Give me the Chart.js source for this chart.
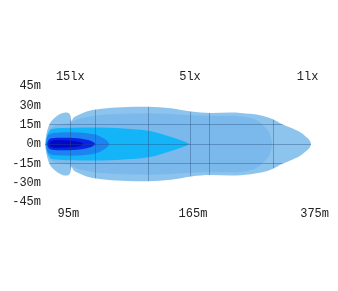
<!DOCTYPE html>
<html>
<head>
<meta charset="utf-8">
<script src="https://cdn.jsdelivr.net/npm/chart.js@4.4.1/dist/chart.umd.min.js"></script>
<style>
  html, body { margin: 0; padding: 0; background: #fff; }
  canvas { display: block; }
</style>
</head>
<body>
<canvas id="beam" width="338" height="291"></canvas>
<script>
// isolux contours: distance along beam (chart units) and half width (m)
const coreX = [6, 8, 14, 29, 37, 41]
const coreH = [0, 2.2, 2.9, 2.6, 1.5, 0]

const darkX = [4, 5.5, 9, 19, 34, 44, 50, 53]
const darkH = [0, 2.9, 4.4, 4.8, 4.4, 3.3, 1.8, 0]

const mediumX = [2.5, 4, 7, 14, 29, 44, 54, 61, 65, 67]
const mediumH = [0, 5.1, 7.7, 8.8, 9.1, 8.4, 7, 4.4, 2.2, 0]

const cyanX = [3, 4, 6, 9, 19, 39, 59, 89, 109, 124, 139, 148]
const cyanH = [0, 5.9, 9.5, 11.7, 12.4, 12.8, 12.8, 11.7, 9.9, 6.6, 2.9, 0]

const innerX = [3, 5, 9, 19, 28, 34, 49, 69, 109, 149, 169, 189, 207, 217, 224, 229, 231]
const innerH = [0, 8.8, 13.2, 15.4, 16.5, 19, 21.6, 23, 23.8, 22.3, 22, 22, 20.5, 17.6, 12.4, 6.6, 0]

const outerX = [2, 3, 4.5, 7, 11, 15, 19, 23, 26, 27.5, 28.3, 31, 35, 44, 59, 79, 106, 129, 149, 169, 189, 209, 221, 231, 241, 249, 259, 265, 269, 270]
const outerH = [0, 5.9, 11, 16.1, 19.8, 22.3, 23.8, 24.5, 23.8, 22, 17.9, 20.5, 22.3, 25.2, 27.4, 28.5, 28.9, 27.8, 25.2, 24.1, 24.5, 23.4, 22, 19.4, 15.4, 12.8, 9.1, 5.5, 2.2, 0]

// axis labels
const topLabels = ['15lx', '5lx', '1lx']
const topPos = [27.5, 148, 266.5]
const bottomLabels = ['95m', '165m', '375m']
const bottomPos = [25.5, 151, 273.5]
const gridX = [28, 53, 106, 149, 168, 232]
const gridY = [-15, 0, 15]

const regions = [
  { x: coreX, h: coreH, color: '#0008c8' },
  { x: darkX, h: darkH, color: '#0a22e6' },
  { x: mediumX, h: mediumH, color: '#1c84f0' },
  { x: cyanX, h: cyanH, color: '#14b4f8' },
  { x: innerX, h: innerH, color: '#7bb9ec' },
  { x: outerX, h: outerH, color: '#8dc4ee' },
]

function edge (xs, hs, sign) {
  return xs.map((x, i) => ({ x, y: sign * hs[i] }))
}

const datasets = regions.flatMap(r => [
  { data: edge(r.x, r.h, 1), fill: '+1', backgroundColor: r.color },
  { data: edge(r.x, r.h, -1), fill: false, backgroundColor: r.color },
])

const FONT = { family: '"Liberation Mono", "DejaVu Sans Mono", monospace', size: 12 }
const TXT = '#222'
const GRID = 'rgba(40,70,120,0.38)'

const setTicks = vals => scale => { scale.ticks = vals.map(v => ({ value: v })) }

// grid is only painted where the beam is already drawn
const clipGrid = {
  id: 'clipGrid',
  afterDatasetsDraw (chart) { chart.ctx.globalCompositeOperation = 'source-atop' },
  afterDraw (chart) { chart.ctx.globalCompositeOperation = 'source-over' },
}

new Chart(document.getElementById('beam'), {
  type: 'line',
  data: { datasets },
  options: {
    responsive: false,
    animation: false,
    layout: { padding: { top: 67.6, bottom: 64.6, left: 10.2, right: 7 } },
    elements: {
      line: { borderWidth: 0, borderColor: 'transparent', cubicInterpolationMode: 'monotone' },
      point: { radius: 0, hoverRadius: 0 },
    },
    plugins: { legend: { display: false }, tooltip: { enabled: false } },
    scales: {
      x: {
        type: 'linear', position: 'bottom', min: 0, max: 290,
        afterBuildTicks: setTicks(bottomPos),
        ticks: { callback: (v, i) => bottomLabels[i], font: FONT, color: TXT, padding: 5, autoSkip: false, maxRotation: 0 },
        grid: { display: false, drawTicks: false },
        border: { display: false },
      },
      xTop: {
        axis: 'x', type: 'linear', position: 'top', min: 0, max: 290,
        afterBuildTicks: setTicks(topPos),
        ticks: { callback: (v, i) => topLabels[i], font: FONT, color: TXT, padding: 2, autoSkip: false, maxRotation: 0 },
        grid: { display: false, drawTicks: false },
        border: { display: false },
      },
      y: {
        type: 'linear', position: 'left', min: -45, max: 45,
        ticks: { stepSize: 15, callback: v => v + 'm', font: FONT, color: TXT, padding: 2 },
        grid: { display: false, drawTicks: false },
        border: { display: false },
      },
      xGrid: {
        axis: 'x', type: 'linear', position: 'bottom', min: 0, max: 290,
        afterBuildTicks: setTicks(gridX),
        ticks: { display: false },
        grid: { color: GRID, lineWidth: 1, drawTicks: false, z: 1 },
        border: { display: false },
      },
      yGrid: {
        axis: 'y', type: 'linear', position: 'left', min: -45, max: 45,
        afterBuildTicks: setTicks(gridY),
        ticks: { display: false },
        grid: { color: GRID, lineWidth: 1, drawTicks: false, z: 1 },
        border: { display: false },
      },
    },
  },
  plugins: [clipGrid],
})
</script>
</body>
</html>
